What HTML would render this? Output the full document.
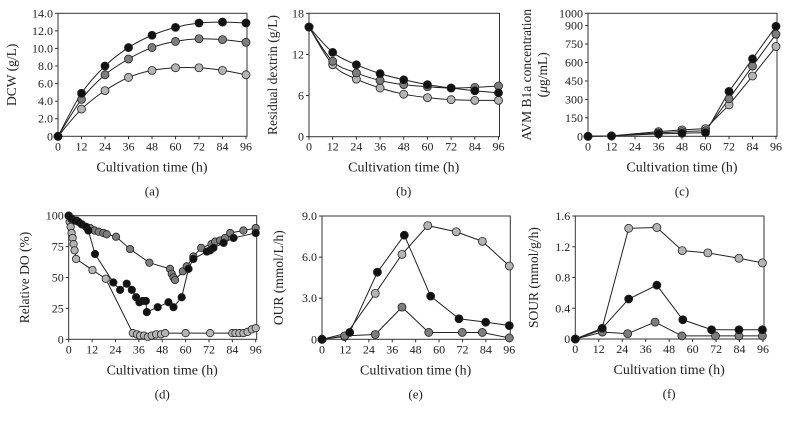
<!DOCTYPE html>
<html><head><meta charset="utf-8">
<style>
html,body{margin:0;padding:0;background:#fff;}
svg{display:block;font-family:"Liberation Serif",serif;}
</style></head>
<body>
<svg id="chart" width="789" height="423" viewBox="0 0 789 423"></svg>
<script>
// ---- data ----
const aTimes=[0,12,24,36,48,60,72,84,96];
const aBlack=[0,4.9,8.0,10.1,11.5,12.4,12.9,13.0,12.9];
const aDark=[0,4.2,7.0,8.8,10.1,10.8,11.1,11.0,10.7];
const aLight=[0,3.1,5.2,6.7,7.5,7.8,7.8,7.5,7.0];
const aTicks=["0","2.0","4.0","6.0","8.0","10.0","12.0","14.0"];

const bTimes=[0,12,24,36,48,60,72,84,96];
const bBlack=[16,12.3,10.5,9.2,8.3,7.6,7.1,6.7,6.4];
const bDark=[16,11,9.3,8.2,7.6,7.3,7.1,7.2,7.4];
const bLight=[16,10.5,8.4,7.1,6.2,5.7,5.4,5.3,5.3];
const bTicks=["0","6","12","18"];

const cTimes=[0,12,36,48,60,72,84,96];
const cBlack=[0,3,20,25,30,365,630,895];
const cDark=[0,3,28,38,45,305,570,830];
const cLight=[0,3,38,52,62,255,490,730];
const cTicks=["0","150","300","450","600","750","900","1000"];

const dLightT=[0,0.5,1,1.5,2,2.5,3,3.8,12.2,19,32.9,35,36.6,38.7,40.6,42.6,44.9,47.4,49.5,60,72.6,84,85.6,87.6,89.7,91.8,94,96];
const dLightV=[100,95,91,86,82,77,72,65,56,49,5,4,3,3,2,3,4,4,5,5,5,5,5,5,5,6,8,9];
const dDarkT=[0,1.5,4.1,6.7,8.9,11,13.2,15.4,17.8,19.5,24.3,31.5,41.4,52,52.9,53.8,54.6,58.6,60.6,64,68,73.3,75.2,77.7,80.3,82.9,89.7,96];
const dDarkV=[100,97,96,93,91,90,88,87,86,85,83,73,62,57,53,50,48,55,59,67,74,77,79,80,82,86,88,90];
const dBlackT=[0,1.2,3.3,5,6.7,8.9,10.1,13.5,22.9,26.4,29.8,32.4,34.6,36.3,38,39.6,40.1,45.7,51.2,53.8,58,61.5,64,70.9,72.6,74.3,79.5,84.6,96];
const dBlackV=[100,98,96,95,93,91,88,69,46,40,45,40,34,30,31,31,22,26,30,26,34,57,65,71,72,74,78,82,86];
const dTicks=["0","25","50","75","100"];

const eBlackT=[0,14.2,28.4,42.2,55.7,70.2,83.9,96];
const eBlackV=[0,0.5,4.9,7.6,3.15,1.5,1.25,1.0];
const eLightT=[0,11.6,27.3,41,54.2,68.8,82.2,96];
const eLightV=[0,0.2,3.35,6.2,8.3,7.85,7.15,5.35];
const eDarkT=[0,11.6,27.3,41,54.7,71.9,82.2,96];
const eDarkV=[0,0.25,0.35,2.35,0.5,0.5,0.5,0.1];
const eTicks=["0","3.0","6.0","9.0"];

const fLightT=[0,13.5,27.3,41.7,54.7,67.8,83.7,95.7];
const fLightV=[0,0.12,1.44,1.45,1.15,1.12,1.05,0.99];
const fBlackT=[0,13.8,27.3,41.7,55,69.7,83.7,95.7];
const fBlackV=[0,0.14,0.52,0.70,0.25,0.12,0.12,0.12];
const fDarkT=[0,13.8,26.8,40.8,54.5,71.7,83.7,95.7];
const fDarkV=[0,0.09,0.07,0.22,0.04,0.04,0.04,0.04];
const fTicks=["0","0.4","0.8","1.2","1.6"];

const xTicks=["0","12","24","36","48","60","72","84","96"];

// ---- drawing ----
const NS="http://www.w3.org/2000/svg";
const svg=document.getElementById('chart');
const COL={black:"#111",dark:"#7d7d7d",light:"#b4b4b4"};
function mk(tag,attrs,parent){const e=document.createElementNS(NS,tag);for(const k in attrs)e.setAttribute(k,attrs[k]);(parent||svg).appendChild(e);return e;}
function smoothPath(pts){
  let d="M"+pts[0][0]+","+pts[0][1];
  for(let i=0;i<pts.length-1;i++){
    const p0=pts[i-1]||pts[i],p1=pts[i],p2=pts[i+1],p3=pts[i+2]||p2;
    const c1=[p1[0]+(p2[0]-p0[0])/6,p1[1]+(p2[1]-p0[1])/6];
    const c2=[p2[0]-(p3[0]-p1[0])/6,p2[1]-(p3[1]-p1[1])/6];
    d+=" C"+c1[0]+","+c1[1]+" "+c2[0]+","+c2[1]+" "+p2[0]+","+p2[1];
  }
  return d;
}
function panel(cfg){
  const g=mk('g',{});
  
  
  const {x0,x1,yTop,yBot,ymax}=cfg;
  const sx=t=>x0+(t/96)*(x1-x0);
  const sy=v=>yBot-(v/ymax)*(yBot-yTop);
  const frame=mk('rect',{x:x0,y:yTop,width:x1-x0+1,height:yBot-yTop,fill:"none",stroke:"#333","stroke-width":1},g);
  
  
  cfg.yTicks.forEach(lbl=>{
    const v=parseFloat(lbl);const y=sy(v);
    const tk=mk('line',{x1:x0-3,x2:x0,y1:y,y2:y,stroke:"#333"},g);
    
    
    const t=mk('text',{x:x0-5,y:y+4,"text-anchor":"end","font-size":12,fill:"#222"},g);
    t.textContent=lbl;
    
    
  });
  xTicks.forEach(lbl=>{
    const x=sx(parseFloat(lbl));
    const tk=mk('line',{x1:x,x2:x,y1:yBot,y2:yBot+3,stroke:"#333"},g);
    
    
    const t=mk('text',{x:x,y:yBot+14,"text-anchor":"middle","font-size":12,fill:"#222"},g);
    t.textContent=lbl;
    
    
  });
  const xt=mk('text',{x:(x0+x1)/2,y:yBot+35,"text-anchor":"middle","font-size":14,fill:"#222"},g);
  xt.textContent="Cultivation time (h)";
  
  
  const cap=mk('text',{x:(x0+x1)/2,y:yBot+59,"text-anchor":"middle","font-size":13,fill:"#222"},g);
  cap.textContent="("+cfg.id+")";
  
  
  cfg.yTitle.forEach((line,i)=>{
    const cx=cfg.yTitleX+i*16, cy=(yTop+yBot)/2;
    const t=mk('text',{x:cx,y:cy,"text-anchor":"middle","font-size":13.5,fill:"#222",transform:"rotate(-90 "+cx+" "+cy+")"},g);
    t.innerHTML=line;
    
    
  });
  cfg.series.forEach(s=>{
    const pts=s.t.map((t,i)=>[sx(t),sy(s.v[i])]);
    const ln=cfg.smooth?mk('path',{d:smoothPath(pts),fill:"none",stroke:"#222","stroke-width":1},g)
      :mk('polyline',{points:pts.map(p=>p.join(",")).join(" "),fill:"none",stroke:"#222","stroke-width":1},g);
    
    
  });
  cfg.series.forEach(s=>{
    s.t.forEach((t,i)=>{
      const c=mk('circle',{cx:sx(t),cy:sy(s.v[i]),r:cfg.r||4,fill:COL[s.c],stroke:"#222","stroke-width":0.8},g);
      
      
    });
  });
}
panel({id:"a",x0:58,x1:246,yTop:13.3,yBot:136.3,ymax:14,yTicks:aTicks,yTitle:["DCW (g/L)"],yTitleX:16,smooth:true,
  series:[{name:"light",c:"light",t:aTimes,v:aLight},{name:"dark",c:"dark",t:aTimes,v:aDark},{name:"black",c:"black",t:aTimes,v:aBlack}]});
panel({id:"b",x0:309,x1:498.5,yTop:13.3,yBot:136.7,ymax:18,yTicks:bTicks,yTitle:["Residual dextrin (g/L)"],yTitleX:277,smooth:true,
  series:[{name:"light",c:"light",t:bTimes,v:bLight},{name:"dark",c:"dark",t:bTimes,v:bDark},{name:"black",c:"black",t:bTimes,v:bBlack}]});
panel({id:"c",x0:588,x1:776,yTop:13.3,yBot:136.3,ymax:1000,yTicks:cTicks,yTitle:["AVM B1a concentration","(<tspan font-style='italic'>μ</tspan>g/mL)"],yTitleX:531,
  series:[{name:"light",c:"light",t:cTimes,v:cLight},{name:"dark",c:"dark",t:cTimes,v:cDark},{name:"black",c:"black",t:cTimes,v:cBlack}]});
panel({id:"d",x0:68.7,x1:255.7,yTop:215.7,yBot:339.3,ymax:100,yTicks:dTicks,yTitle:["Relative DO (%)"],yTitleX:29,r:3.7,
  series:[{name:"light",c:"light",t:dLightT,v:dLightV},{name:"dark",c:"dark",t:dDarkT,v:dDarkV},{name:"black",c:"black",t:dBlackT,v:dBlackV}]});
panel({id:"e",x0:322,x1:509.3,yTop:216,yBot:339.3,ymax:9,yTicks:eTicks,yTitle:["OUR (mmol/L/h)"],yTitleX:283,
  series:[{name:"light",c:"light",t:eLightT,v:eLightV},{name:"dark",c:"dark",t:eDarkT,v:eDarkV},{name:"black",c:"black",t:eBlackT,v:eBlackV}]});
panel({id:"f",x0:575.3,x1:763,yTop:216,yBot:339,ymax:1.6,yTicks:fTicks,yTitle:["SOUR (mmol/g/h)"],yTitleX:538,
  series:[{name:"light",c:"light",t:fLightT,v:fLightV},{name:"dark",c:"dark",t:fDarkT,v:fDarkV},{name:"black",c:"black",t:fBlackT,v:fBlackV}]});
</script>
</body></html>
